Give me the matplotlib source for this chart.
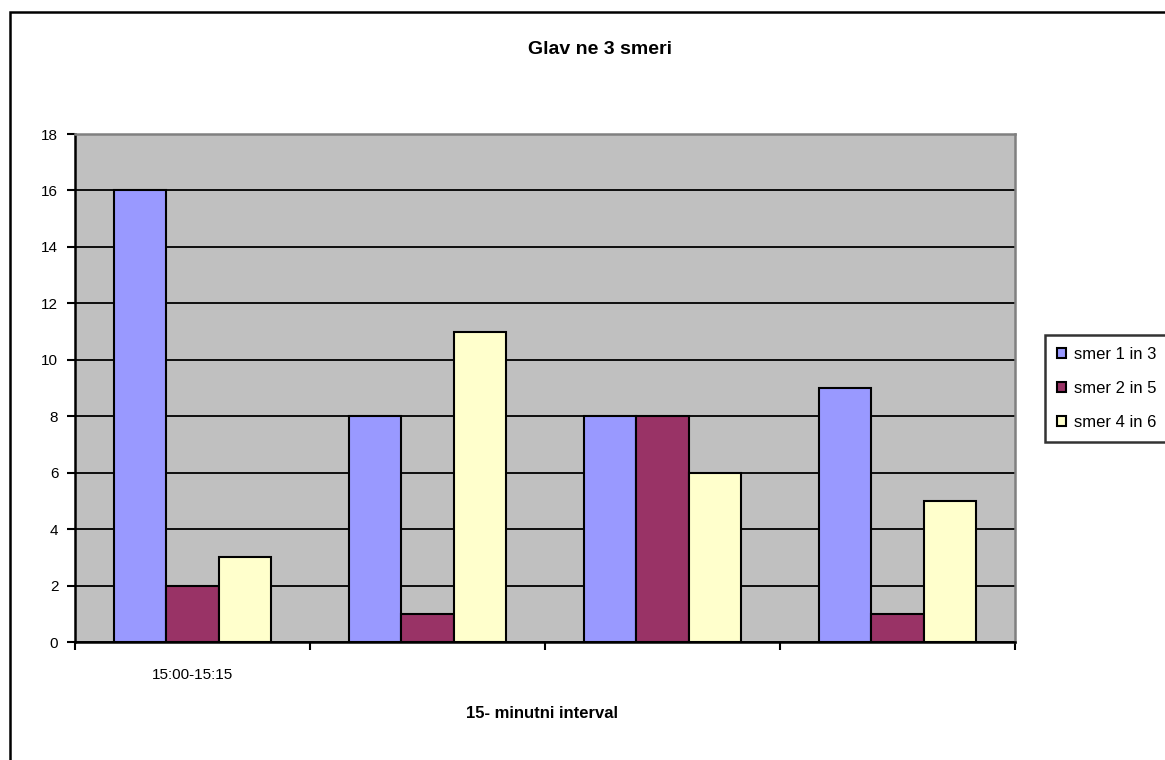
import matplotlib
matplotlib.use("Agg")
import matplotlib.pyplot as plt
import numpy as np
from matplotlib.patches import Rectangle

plt.rcParams['font.family'] = ['Liberation Sans', 'DejaVu Sans']

categories = ["15:00-15:15", "", "", ""]
series_names = ["smer 1 in 3", "smer 2 in 5", "smer 4 in 6"]
smer_1_3 = [16, 8, 8, 9]
smer_2_5 = [2, 1, 8, 1]
smer_4_6 = [3, 11, 6, 5]
colors = ["#9999FF", "#993366", "#FFFFCC"]
title = "Glav ne 3 smeri"
xlabel = "15- minutni interval"

W, H = 1165, 760
fig = plt.figure(figsize=(W / 100, H / 100), dpi=100)
fig.patch.set_facecolor("white")

# outer chart border (only left/top visible in crop)
fig.add_artist(Rectangle((10 / W, -0.05), 1.2, 1 - 12 / H + 0.05,
                         transform=fig.transFigure, fill=False,
                         edgecolor="black", linewidth=1.8, clip_on=False))

ax = fig.add_axes([75 / W, 1 - 642 / H, (1015 - 75) / W, (642 - 134) / H])
ax.set_facecolor("#C0C0C0")

x = np.arange(len(categories))
w = 1 / 4.5
for i, (vals, name, c) in enumerate(zip([smer_1_3, smer_2_5, smer_4_6], series_names, colors)):
    ax.bar(x + (i - 1) * w, vals, width=w, color=c, edgecolor="black",
           linewidth=1.5, label=name, zorder=3)

ax.set_xlim(-0.5, len(categories) - 0.5)
ax.set_ylim(0, 18)
ax.set_yticks(np.arange(0, 19, 2))
ax.grid(axis="y", color="black", linewidth=1.3, zorder=1)
ax.set_axisbelow(True)

ax.set_xticks(np.arange(-0.5, len(categories)), minor=False)
ax.set_xticklabels([""] * (len(categories) + 1))
ax.set_xticks(x, minor=True)
ax.set_xticklabels(categories, minor=True, fontsize=11)
ax.tick_params(axis="x", which="minor", length=0, pad=19)
ax.tick_params(axis="x", which="major", length=6, width=1.5, direction="out")
ax.tick_params(axis="y", length=6, width=1.5, direction="out", labelsize=11, pad=6)

for s in ["left", "bottom"]:
    ax.spines[s].set_color("black")
    ax.spines[s].set_linewidth(1.8)
for s in ["top", "right"]:
    ax.spines[s].set_color("#808080")
    ax.spines[s].set_linewidth(1.8)

fig.text(600 / W, 1 - 49 / H, title, ha="center", va="center",
         fontsize=14, fontweight="bold")
fig.text(542 / W, 1 - 713 / H, xlabel, ha="center", va="center",
         fontsize=12, fontweight="bold")

leg = fig.legend(loc="upper left", bbox_to_anchor=(1045 / W, 1 - 335 / H),
                 frameon=True, fancybox=False, fontsize=12, handlelength=0.55,
                 handleheight=0.55, handletextpad=0.5, labelspacing=1.15,
                 borderpad=0.7, borderaxespad=0)
leg.get_frame().set_edgecolor("black")
leg.get_frame().set_linewidth(1.8)

fig.savefig("out.png", dpi=100)
